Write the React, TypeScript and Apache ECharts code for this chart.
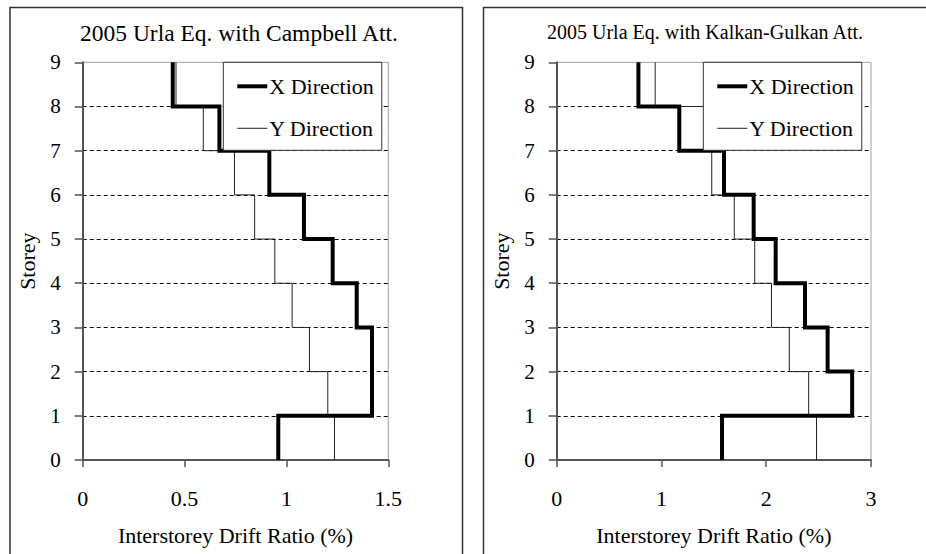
import React, { useEffect, useRef } from "react";
import * as echarts from "echarts";

const storeyTicks = [0, 1, 2, 3, 4, 5, 6, 7, 8, 9];
const campbellX = [0.96, 1.42, 1.42, 1.345, 1.227, 1.086, 0.916, 0.671, 0.442];
const campbellY = [1.236, 1.203, 1.113, 1.028, 0.943, 0.844, 0.745, 0.592, 0.458];
const kalkanX = [1.578, 2.82, 2.586, 2.37, 2.09, 1.88, 1.597, 1.17, 0.78];
const kalkanY = [2.48, 2.405, 2.22, 2.05, 1.89, 1.695, 1.48, 1.45, 0.94];
const titles = ["2005 Urla Eq. with Campbell Att.", "2005 Urla Eq. with Kalkan-Gulkan Att."];
const seriesNames = ["X Direction", "Y Direction"];
const xMax = [1.5, 3];
const xInterval = [0.5, 1];

const FONT = "'Liberation Serif', 'Times New Roman', serif";

function stepData(vals: number[]) {
  const out: number[][] = [];
  vals.forEach((v, i) => {
    out.push([v, storeyTicks[i]]);
    out.push([v, storeyTicks[i + 1]]);
  });
  return out;
}

export default function App() {
  const ref = useRef<HTMLDivElement>(null);
  useEffect(() => {
    document.body.style.margin = "0";
    const chart = echarts.init(ref.current!, null, { renderer: "svg" });
    const grids = [
      { left: 82.7, top: 62.3, width: 305.6, height: 397.7 },
      { left: 556.7, top: 62.3, width: 314.3, height: 397.7 },
    ];
    const panelData = [
      [campbellX, campbellY],
      [kalkanX, kalkanY],
    ];
    const option: any = {
      animation: false,
      backgroundColor: "#fff",
      textStyle: { fontFamily: FONT },
      title: [
        {
          text: titles[0],
          left: 80,
          top: 21,
          padding: 0,
          textStyle: { fontFamily: FONT, fontSize: 23.5, fontWeight: "normal", color: "#000" },
        },
        {
          text: titles[1],
          left: 547,
          top: 22,
          padding: 0,
          textStyle: { fontFamily: FONT, fontSize: 20, fontWeight: "normal", color: "#000" },
        },
      ],
      graphic: [
        { type: "rect", z: 0, shape: { x: 10, y: 7.5, width: 452.5, height: 600 }, style: { fill: "none", stroke: "#333", lineWidth: 1.5 } },
        { type: "rect", z: 0, shape: { x: 483.5, y: 7.5, width: 600, height: 600 }, style: { fill: "none", stroke: "#333", lineWidth: 1.5 } },
      ],
      legend: [0, 1].map((p) => ({
        orient: "vertical",
        left: p === 0 ? 223.3 : 703.3,
        top: 62.3,
        padding: [13, 8, 11, 12],
        itemGap: 20,
        itemWidth: 30,
        itemHeight: 14,
        backgroundColor: "#fff",
        borderColor: "#333",
        borderWidth: 1,
        borderRadius: 0,
        textStyle: { fontFamily: FONT, fontSize: 22, color: "#000", lineHeight: 22, padding: [0, 0, 0, -3] },
        data: [
          { name: seriesNames[0], itemStyle: { opacity: 0 }, lineStyle: { width: 4, color: "#000" } },
          { name: seriesNames[1], itemStyle: { opacity: 0 }, lineStyle: { width: 1, color: "#222" } },
        ],
        selectedMode: false,
      })),
      grid: grids.map((g) => ({
        ...g,
        show: true,
        borderColor: "#a0a0a0",
        borderWidth: 1,
        backgroundColor: "transparent",
      })),
      xAxis: [0, 1].map((p) => ({
        type: "value",
        gridIndex: p,
        min: 0,
        max: xMax[p],
        interval: xInterval[p],
        name: "Interstorey Drift Ratio (%)",
        nameLocation: "middle",
        nameGap: 64,
        nameTextStyle: { fontFamily: FONT, fontSize: 22, color: "#000" },
        axisLine: { show: true, onZero: false, lineStyle: { color: "#555", width: 2 } },
        axisTick: { show: true, inside: false, length: 7, lineStyle: { color: "#555", width: 1.5 } },
        axisLabel: { fontFamily: FONT, fontSize: 22, color: "#000", margin: 27 },
        splitLine: { show: false },
      })),
      yAxis: [0, 1].map((p) => ({
        type: "value",
        gridIndex: p,
        min: 0,
        max: 9,
        interval: 1,
        name: "Storey",
        nameLocation: "middle",
        nameRotate: 90,
        nameGap: 44,
        nameTextStyle: { fontFamily: FONT, fontSize: 22, color: "#000" },
        axisLine: { show: true, onZero: false, lineStyle: { color: "#555", width: 2 } },
        axisTick: { show: true, inside: false, length: 8, lineStyle: { color: "#555", width: 1.5 } },
        axisLabel: { fontFamily: FONT, fontSize: 21, color: "#000", margin: 22 },
        splitLine: {
          show: true,
          showMinLine: false,
          showMaxLine: false,
          lineStyle: { color: "#000", type: [4, 3], width: 1 },
        },
      })),
      series: [0, 1].flatMap((p) => [
        {
          name: seriesNames[1],
          type: "line",
          xAxisIndex: p,
          yAxisIndex: p,
          data: stepData(panelData[p][1]),
          symbol: "none",
          lineStyle: { color: "#222", width: 1 },
          itemStyle: { color: "#222" },
          z: 2,
        },
        {
          name: seriesNames[0],
          type: "line",
          xAxisIndex: p,
          yAxisIndex: p,
          data: stepData(panelData[p][0]),
          symbol: "none",
          lineStyle: { color: "#000", width: 4, join: "miter" },
          itemStyle: { color: "#000" },
          z: 3,
        },
      ]),
    };
    chart.setOption(option);
    return () => chart.dispose();
  }, []);
  return <div ref={ref} style={{ width: 926, height: 554 }} />;
}
